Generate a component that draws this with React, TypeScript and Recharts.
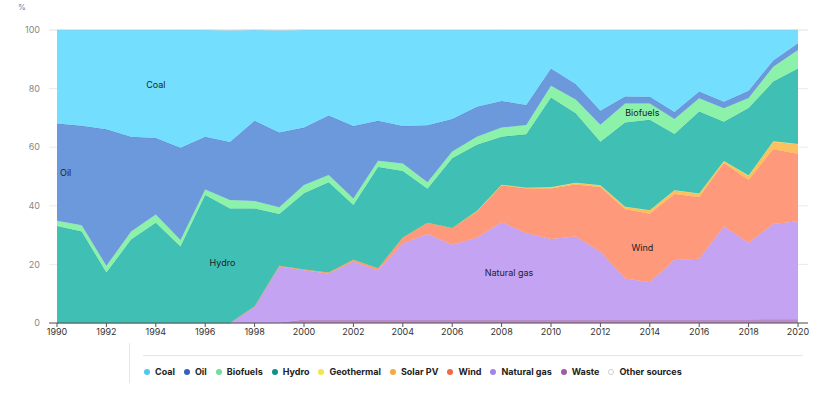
import { Area, AreaChart, CartesianGrid, ReferenceDot, XAxis, YAxis } from "recharts"

const years = [
  1990, 1991, 1992, 1993, 1994, 1995, 1996, 1997, 1998, 1999, 2000, 2001, 2002, 2003, 2004, 2005,
  2006, 2007, 2008, 2009, 2010, 2011, 2012, 2013, 2014, 2015, 2016, 2017, 2018, 2019, 2020,
]
const xTicks = [1990, 1992, 1994, 1996, 1998, 2000, 2002, 2004, 2006, 2008, 2010, 2012, 2014, 2016, 2018, 2020]
const yTicks = [0, 20, 40, 60, 80, 100]

// share of generation, %
const waste = [0, 0, 0, 0, 0, 0, 0, 0, 0, 0.1, 1.2, 1.2, 1.2, 1.2, 1.2, 1.2, 1.2, 1.2, 1.2, 1.2, 1.2, 1.2, 1.2, 1.2, 1.2, 1.2, 1.2, 1.2, 1.2, 1.3, 1.3]
const gas = [0, 0, 0, 0, 0, 0, 0, 0, 5.6, 19.2, 16.8, 15.6, 19.7, 16.7, 25.9, 29.2, 25.5, 27.9, 33.2, 29.4, 27.5, 28.3, 23.1, 14.0, 12.7, 20.3, 20.7, 31.7, 26.2, 32.5, 33.4]
const wind = [0, 0, 0, 0, 0, 0, 0, 0, 0.1, 0.2, 0.3, 0.4, 0.7, 0.8, 2.1, 3.8, 5.7, 8.9, 12.5, 15.3, 17.2, 17.8, 22.0, 23.6, 23.4, 22.5, 21.0, 21.6, 21.4, 25.5, 23.0]
const solar = [0, 0, 0, 0, 0, 0, 0, 0, 0, 0, 0, 0, 0, 0, 0, 0, 0, 0.1, 0.2, 0.2, 0.3, 0.5, 0.6, 0.8, 1.1, 1.2, 1.2, 0.7, 1.4, 2.6, 3.3]
const geothermal = [0, 0, 0, 0, 0, 0, 0, 0, 0, 0, 0, 0, 0, 0, 0, 0, 0, 0.1, 0.1, 0.1, 0.1, 0.1, 0.1, 0.1, 0.1, 0.1, 0.1, 0.1, 0.1, 0.1, 0.1]
const hydro = [33.1, 31.2, 17.2, 28.5, 34.2, 26.1, 43.7, 39.1, 33.4, 17.7, 26.0, 30.8, 18.7, 34.5, 22.7, 11.6, 23.8, 22.6, 16.4, 18.2, 30.7, 23.7, 14.9, 28.7, 30.9, 19.2, 28.0, 13.4, 23.1, 20.4, 25.8]
const biofuels = [1.8, 2.2, 2.3, 2.7, 2.8, 2.2, 1.9, 2.9, 2.5, 2.3, 2.8, 2.5, 2.2, 2.2, 2.5, 2.2, 2.3, 2.8, 3.1, 3.2, 4.0, 4.7, 5.8, 6.5, 5.5, 5.1, 4.5, 4.6, 3.4, 5.1, 6.3]
const oil = [33.2, 33.9, 46.6, 32.4, 26.1, 31.5, 18.0, 19.8, 27.4, 25.5, 19.6, 20.3, 24.7, 13.6, 12.8, 19.5, 11.1, 10.2, 9.1, 6.8, 5.9, 5.3, 4.7, 2.4, 2.3, 2.4, 2.3, 2.2, 2.5, 2.1, 2.3]
const coal = [31.9, 32.7, 33.9, 36.4, 36.9, 40.2, 36.4, 38.0, 31.0, 34.8, 33.3, 29.2, 32.8, 31.0, 32.8, 32.5, 30.4, 26.2, 24.2, 25.6, 13.1, 18.4, 27.6, 22.7, 22.8, 28.0, 21.0, 24.5, 20.7, 10.4, 4.5]
const other = [0, 0, 0, 0, 0, 0, 0, 0.2, 0, 0.2, 0, 0, 0, 0, 0, 0, 0, 0, 0, 0, 0, 0, 0, 0, 0, 0, 0, 0, 0, 0, 0]

// bottom to top
const series = [
  { key: "waste", name: "Waste", values: waste, fill: "#b98cc6", dot: "#9c5ca6" },
  { key: "gas", name: "Natural gas", values: gas, fill: "#c4a4f2", dot: "#a385e8" },
  { key: "wind", name: "Wind", values: wind, fill: "#ff997b", dot: "#f06a48" },
  { key: "solar", name: "Solar PV", values: solar, fill: "#fbc060", dot: "#f5a942" },
  { key: "geothermal", name: "Geothermal", values: geothermal, fill: "#f5e36a", dot: "#f1e64b" },
  { key: "hydro", name: "Hydro", values: hydro, fill: "#40bfb5", dot: "#0e9188" },
  { key: "biofuels", name: "Biofuels", values: biofuels, fill: "#8cf2aa", dot: "#6ee09a" },
  { key: "oil", name: "Oil", values: oil, fill: "#6c99dc", dot: "#3460c0" },
  { key: "coal", name: "Coal", values: coal, fill: "#74defe", dot: "#4fc8f0" },
  { key: "other", name: "Other sources", values: other, fill: "#d4d4d4", dot: "#d0d0d0" },
]

const legendOrder = ["coal", "oil", "biofuels", "hydro", "geothermal", "solar", "wind", "gas", "waste", "other"]

const labels = [
  { text: "Coal", x: 1994, y: 81.2 },
  { text: "Oil", x: 1990.35, y: 51.2 },
  { text: "Hydro", x: 1996.7, y: 20.5 },
  { text: "Natural gas", x: 2008.3, y: 17.1 },
  { text: "Wind", x: 2013.7, y: 25.6 },
  { text: "Biofuels", x: 2013.7, y: 71.7 },
]

const data = years.map((yr, i) => {
  const row: Record<string, number> = { year: yr }
  series.forEach((s) => (row[s.key] = s.values[i]))
  return row
})

const font = "Inter, 'Liberation Sans', sans-serif"

export default function App() {
  return (
    <div style={{ position: "relative", width: 825, height: 393, background: "#fff", fontFamily: font, overflow: "hidden" }}>
      <style>{`body{margin:0}`}</style>
      <div style={{ position: "absolute", left: 18, top: 2, fontSize: 8, color: "#6b7aa8" }}>%</div>
      <AreaChart width={825} height={393} data={data} margin={{ top: 30, right: 17, left: 0, bottom: 40 }}>
        <CartesianGrid vertical={false} stroke="#ebebeb" />
        <XAxis dataKey="year" type="number" domain={[1990, 2020]} ticks={xTicks} interval={0}
          padding={{ left: 8, right: 10 }} height={30} tickSize={4} tickMargin={2}
          axisLine={{ stroke: "#555" }} tickLine={{ stroke: "#555" }}
          tick={{ fill: "#333", fontSize: 9, fontFamily: font }} />
        <YAxis type="number" domain={[0, 100]} ticks={yTicks} width={49} tickSize={0} tickMargin={9}
          axisLine={false} tickLine={false} tick={{ fill: "#888", fontSize: 9, fontFamily: font }} />
        {series.map((s) => (
          <Area key={s.key} type="linear" dataKey={s.key} name={s.name} stackId="1"
            fill={s.fill} fillOpacity={1} stroke={s.dot} strokeOpacity={0.5} strokeWidth={0.6}
            isAnimationActive={false} />
        ))}
        {labels.map((l) => (
          <ReferenceDot key={l.text} x={l.x} y={l.y} r={0} fill="none" stroke="none"
            label={{ value: l.text, position: "center", fill: "#222", fontSize: 9, fontFamily: font }} />
        ))}
      </AreaChart>
      <div style={{ position: "absolute", left: 129, top: 343, width: 1, height: 40, background: "#e6e6e6" }} />
      <div style={{ position: "absolute", left: 143, top: 355, width: 660, height: 1, background: "#e6e6e6" }} />
      <div style={{ position: "absolute", left: 144, top: 366, display: "flex", alignItems: "center", gap: 9, fontSize: 9, fontWeight: 700, color: "#222" }}>
        {legendOrder.map((k) => {
          const s = series.find((x) => x.key === k)!
          const ring = k === "other"
          return (
            <div key={k} style={{ display: "flex", alignItems: "center", gap: 5 }}>
              <span style={{ width: 6, height: 6, borderRadius: 3, boxSizing: "border-box",
                background: ring ? "#fff" : s.dot, border: ring ? "1.5px solid #d0d0d0" : "none" }} />
              <span>{s.name}</span>
            </div>
          )
        })}
      </div>
    </div>
  )
}
